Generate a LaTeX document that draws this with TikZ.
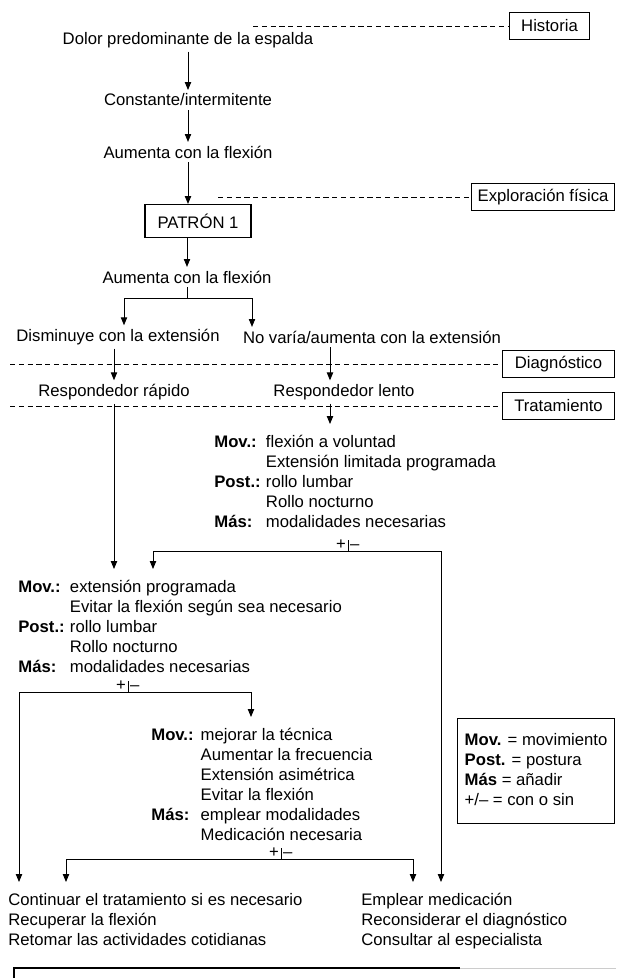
\documentclass[tikz,border=0pt]{standalone}
\usepackage{fontspec}
\setmainfont{Liberation Sans}
\usetikzlibrary{positioning,calc,arrows.meta}

\tikzset{
  stagebox/.style={draw, line width=0.6pt, minimum height=0.54cm, inner xsep=2pt},
  lbl/.style={inner sep=2pt},
  blk/.style={inner xsep=0pt, inner ysep=5pt, anchor=north west},
  arr/.style={-{Triangle[length=4.5pt,width=3.6pt]}, line width=0.5pt},
  guide/.style={densely dashed, line width=0.5pt},
  pm/.style={inner xsep=1pt, inner ysep=0.5pt, text height=6.5pt, text depth=0pt},
}

\begin{document}
\begin{tikzpicture}[x=0.02cm, y=-0.02cm, font=\fontsize{9.5}{11.4}\selectfont]
    \useasboundingbox (0,0) rectangle (616,978);

    % Stage boxes and their dashed guide lines
    \foreach \nm/\xa/\xb/\w/\y/\txt in {hist/253/509/80/26/Historia, expl/218/471/143/197/Exploración física, diag/10/502/112/364/Diagnóstico, trat/10/502/112/406/Tratamiento} {
      \node[stagebox, anchor=west, minimum width=\w*0.02cm] (\nm) at (\xb,\y) {\txt};
      \draw[guide] (\xa,\y) coordinate (\nm-s) -- (\nm.west);
    }

    % History and examination
    \node[lbl] (dolor) at (188,40) {Dolor predominante de la espalda};
    \node[lbl] (const) at (188,100) {Constante/intermitente};
    \node[lbl] (aum1) at (188,152) {Aumenta con la flexión};
    \node[stagebox, minimum width=106*0.02cm, minimum height=33*0.02cm] (patron) at (198,221) {PATRÓN 1};
    \node[lbl] (aum2) at (187,277) {Aumenta con la flexión};

    \draw[arr] (dolor) -- (const);
    \draw[arr] (const) -- (aum1);
    \draw[arr] (aum1.south) -- (aum1.south |- patron.north);
    \draw[arr] (patron.south -| aum2) -- (aum2);

    % Diagnosis branch
    \node[lbl] (dism) at (118,337) {Disminuye con la extensión};
    \node[lbl] (novar) at (372,337) {No varía/aumenta con la extensión};
    \coordinate (brL) at (124,298);
    \coordinate (brR) at (252,298);
    \draw[arr] (aum2.south) |- (brL) -- (brL |- dism.north);
    \draw[arr] (aum2.south) |- (brR) -- (brR |- novar.north);

    \node[lbl] (rapido) at (114,392) {Respondedor rápido};
    \node[lbl] (lento) at (344,392) {Respondedor lento};
    \coordinate (lentoin) at (330,392);
    \draw[arr] (dism.south -| rapido) -- (rapido);
    \draw[arr] (novar.south -| lentoin) -- (lentoin |- lento.north);

    % Treatment blocks
    \node[blk] (lentoblk) at (214,424) {\begin{tabular}{@{}l@{\hspace{3pt}}l@{}}
      \textbf{Mov.:} & flexión a voluntad\\
      & Extensión limitada programada\\
      \textbf{Post.:} & rollo lumbar\\
      & Rollo nocturno\\
      \textbf{Más:} & modalidades necesarias
    \end{tabular}};
    \node[blk] (rapblk) at (18,569) {\begin{tabular}{@{}l@{\hspace{3pt}}l@{}}
      \textbf{Mov.:} & extensión programada\\
      & Evitar la flexión según sea necesario\\
      \textbf{Post.:} & rollo lumbar\\
      & Rollo nocturno\\
      \textbf{Más:} & modalidades necesarias
    \end{tabular}};
    \node[blk] (tecblk) at (151,717) {\begin{tabular}{@{}l@{\hspace{4pt}}l@{}}
      \textbf{Mov.:} & mejorar la técnica\\
      & Aumentar la frecuencia\\
      & Extensión asimétrica\\
      & Evitar la flexión\\
      \textbf{Más:} & emplear modalidades\\
      & Medicación necesaria
    \end{tabular}};
    \node[blk] (contblk) at (8,882) {\begin{tabular}{@{}l@{}}
      Continuar el tratamiento si es necesario\\
      Recuperar la flexión\\
      Retomar las actividades cotidianas
    \end{tabular}};
    \node[blk] (emplblk) at (361,882) {\begin{tabular}{@{}l@{}}
      Emplear medicación\\
      Reconsiderar el diagnóstico\\
      Consultar al especialista
    \end{tabular}};

    \draw[arr] (lento.south -| lentoin) -- (lentoin |- lentoblk.north);
    \draw[arr] (rapido) -- (rapido |- rapblk.north);

    % +/- splits
    \foreach \sp/\x/\y in {split1/348/551, split2/128/692, split3/281/859} {
      \coordinate (\sp) at (\x,\y);
      \draw[line width=0.5pt] (\sp) -- ++(0,-11);
      \node[pm, anchor=south east] (\sp-p) at (\sp) {+};
      \node[pm, anchor=south west] (\sp-m) at (\sp) {--};
    }
    \draw[arr] (split1) -| ($(rapblk.north west)+(135,0)$);
    \draw[arr] (split1) -| ($(emplblk.north west)+(80,0)$);
    \draw[arr] (split2) -| ($(tecblk.north west)+(100,0)$);
    \draw[arr] (split2) -| ($(contblk.north west)+(11,0)$);
    \draw[arr] (split3) -| ($(contblk.north west)+(58,0)$);
    \draw[arr] (split3) -| ($(emplblk.north west)+(52,0)$);

    % Legend
    \node[draw, line width=0.6pt, anchor=north west, minimum width=157*0.02cm, minimum height=105*0.02cm] (leyenda) at (457,718) {\begin{tabular}{@{}l@{}}
      \textbf{Mov.} = movimiento\\
      \textbf{Post.} = postura\\
      \textbf{Más} = añadir\\
      +/-- = con o sin
    \end{tabular}};

    % Cut-off frame at the bottom
    \draw[line width=0.6pt] (14,978) -- (14,968) -- (460,968);
    \draw[gray!40, line width=0.5pt] (460,968) -- (616,968);
\end{tikzpicture}
\end{document}
